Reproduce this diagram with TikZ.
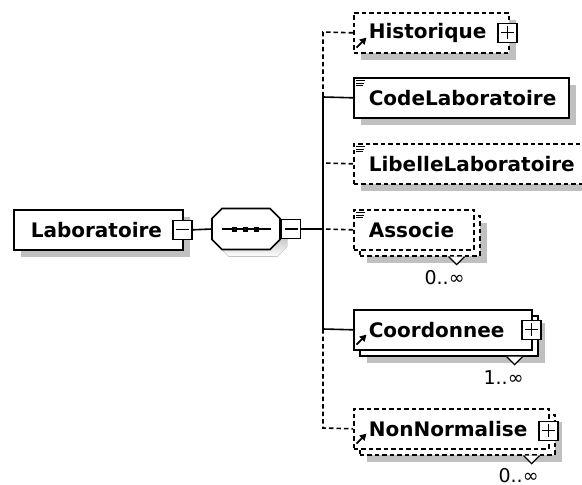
\documentclass[tikz,border=0pt]{standalone}
\usepackage{fontspec}
\setmainfont{DejaVu Sans}
\usetikzlibrary{arrows.meta,calc}
\definecolor{shade}{RGB}{192,192,192}
\tikzset{
  ln/.style={line width=1.6pt},
  dsh/.style={dash pattern=on 4.5pt off 3pt},
  base/.style={draw, ln, fill=white, minimum height=40pt, inner ysep=0pt,
    anchor=north west, font=\fontsize{20}{22}\selectfont\bfseries, align=left},
  shadowed/.style={preaction={fill=shade, draw=none, transform canvas={xshift=7pt, yshift=-7pt}}},
  back/.style={draw, ln, fill=white, minimum height=40pt, inner sep=0pt, anchor=north west},
  pmbox/.style={draw, ln, fill=white, minimum size=19pt, inner sep=0pt},
  minusbox/.style={pmbox, path picture={\draw[line width=1.3pt] ([xshift=3pt]path picture bounding box.west) -- ([xshift=-3pt]path picture bounding box.east);}},
  plusbox/.style={pmbox, path picture={\draw[line width=1.3pt] ([xshift=3pt]path picture bounding box.west) -- ([xshift=-3pt]path picture bounding box.east) ([yshift=-3pt]path picture bounding box.north) -- ([yshift=3pt]path picture bounding box.south);}},
  seqanchor/.style={minimum width=68pt, minimum height=41pt, inner sep=0pt},
  mult/.style={font=\fontsize{19}{22}\selectfont, inner sep=0pt, anchor=base},
  refarrow/.style={line width=1.8pt, -{Triangle[length=6.5pt,width=7pt]}},
  vee/.style={line width=1.3pt, fill=white},
  txticon/.style={line width=1pt},
}
\newcommand{\refic}[1]{\draw[refarrow] ($(#1.south west)+(3.5,-6)$) -- ++(10,-10);}
\newcommand{\txtic}[1]{\draw[txticon] ($(#1.north west)+(3,3.5)$) -- ++(9,0) ($(#1.north west)+(3,6.2)$) -- ++(8,0) ($(#1.north west)+(3,8.9)$) -- ++(7,0);}
\newcommand{\veeat}[1]{\draw[vee] ($(#1.south east)+(-32,0)$) -- ($(#1.south east)+(-24,8)$) -- ($(#1.south east)+(-16,0)$);}
\newcommand{\octo}[1]{($(#1)+(-34,-10.5)$) -- ($(#1)+(-24,-20.5)$) -- ($(#1)+(24,-20.5)$) -- ($(#1)+(34,-10.5)$) -- ($(#1)+(34,10.5)$) -- ($(#1)+(24,20.5)$) -- ($(#1)+(-24,20.5)$) -- ($(#1)+(-34,10.5)$) -- cycle}
\begin{document}
\begin{tikzpicture}[x=1pt,y=-1pt]
\useasboundingbox (0,0) rectangle (582,485);
\clip (0,0) rectangle (582,485);

% root
\node[base, shadowed, minimum width=169pt, text width=135pt, inner xsep=17pt] (lab) at (13,209) {Laboratoire};
\node[minusbox] (labpm) at ($(lab.east)+(-1,0)$) {};

% sequence (octagon)
\node[seqanchor] (seq) at (246,229) {};
\coordinate (seqsh) at (253,236);
\fill[shade] \octo{seqsh};
\draw[ln, fill=white] \octo{seq.center};
\draw[ln] ($(seq.center)+(-24,0)$) -- ($(seq.center)+(25,0)$);
\foreach \dx in {-12,-1,10} \fill ($(seq.center)+(\dx,0)$) +(-2.5,-2.5) rectangle +(2.5,2.5);
\node[minusbox] (seqpm) at (291,229) {};

% trunk coordinates
\coordinate (tHist) at (323,32);
\coordinate (tCode) at (323,97);
\coordinate (tLib) at (323,163);
\coordinate (tSeq) at (323,229);
\coordinate (tCoord) at (323,329);
\coordinate (tNon) at (323,428);

% children
\node[base, dsh, shadowed, minimum width=155pt, text width=125pt, inner xsep=15pt] (hist) at (353,12) {Historique};
\node[plusbox] (histpm) at ($(hist.east)+(-2,0)$) {};
\refic{hist}

\node[base, shadowed, minimum width=215pt, text width=185pt, inner xsep=15pt] (code) at (353,77) {CodeLaboratoire};
\txtic{code}

\node[base, dsh, shadowed, minimum width=262pt, text width=232pt, inner xsep=15pt] (lib) at (353,143) {LibelleLaboratoire};
\txtic{lib}

\node[back, dsh, shadowed, minimum width=120pt] (assocB) at (359,215) {};
\node[base, dsh, minimum width=120pt, text width=90pt, inner xsep=15pt] (assoc) at (353,209) {Associe};
\txtic{assoc}
\veeat{assocB}
\node[mult] (assocM) at ($(assocB.south east)+(-36,28)$) {0..∞};

\node[back, shadowed, minimum width=178pt] (coordB) at (359,315) {};
\node[base, minimum width=178pt, text width=148pt, inner xsep=15pt] (coord) at (353,309) {Coordonnee};
\node[plusbox] (coordpm) at ($(coord.east)+(-1,0)$) {};
\refic{coord}
\veeat{coordB}
\node[mult] (coordM) at ($(coordB.south east)+(-35,28)$) {1..∞};

\node[back, dsh, shadowed, minimum width=195pt] (nonB) at (359,414) {};
\node[base, dsh, minimum width=195pt, text width=165pt, inner xsep=15pt] (non) at (353,408) {NonNormalise};
\node[plusbox] (nonpm) at ($(non.east)+(-1,2)$) {};
\refic{non}
\veeat{nonB}
\node[mult] (nonM) at ($(nonB.south east)+(-37,26.5)$) {0..∞};

% connectors
\draw[ln] (labpm.east) -- (seq.west);
\draw[ln] (seqpm.east) -- (tSeq);
\draw[ln, dsh] (hist.west) -- (tHist) -- (tCode);
\draw[ln] (code.west) -- (tCode) -- (tCoord);
\draw[ln, dsh] (lib.west) -- (tLib);
\draw[ln, dsh] (assoc.west) -- (tSeq);
\draw[ln] (coord.west) -- (tCoord);
\draw[ln, dsh] (tCoord) -- (tNon) -- (non.west);
\end{tikzpicture}
\end{document}
